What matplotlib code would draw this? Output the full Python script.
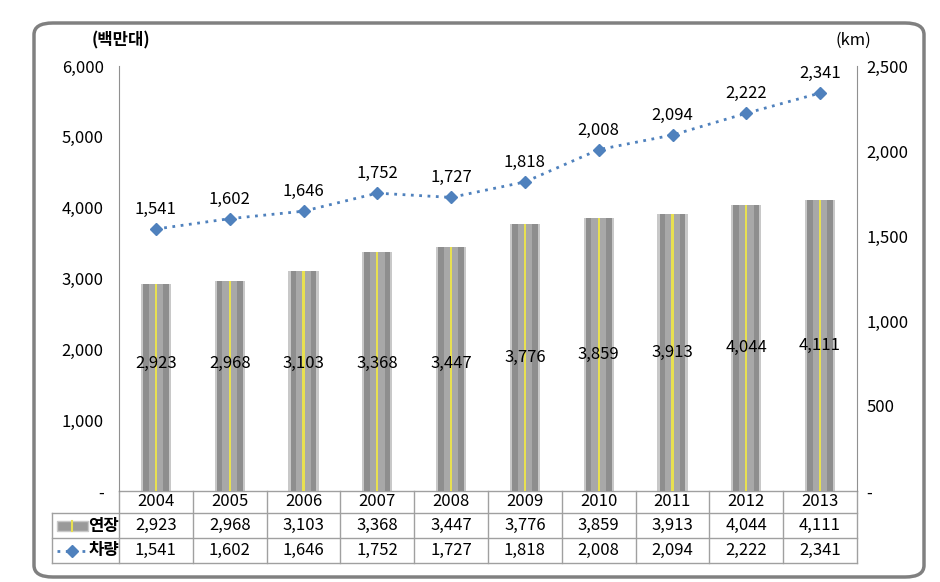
import numpy as np
import matplotlib
matplotlib.use("Agg")
import matplotlib.pyplot as plt
from matplotlib.patches import FancyBboxPatch, Rectangle
from matplotlib.lines import Line2D
from matplotlib.ticker import FuncFormatter
import matplotlib.transforms as mtrans

plt.rcParams['font.family'] = ['Noto Sans CJK KR', 'DejaVu Sans']

years = ['2004', '2005', '2006', '2007', '2008', '2009', '2010', '2011', '2012', '2013']
length = [2923, 2968, 3103, 3368, 3447, 3776, 3859, 3913, 4044, 4111]
cars = [1541, 1602, 1646, 1752, 1727, 1818, 2008, 2094, 2222, 2341]
names = ['연장', '차량']

fs = 12
fig = plt.figure(figsize=(9.4, 5.82), dpi=100)
ax = fig.add_axes([119/940, 1-491/582, 738/940, 425/582])
ax2 = ax.twinx()

# outer rounded frame
frame = FancyBboxPatch((34/940, 5/582), 890/940, 554/582,
                       boxstyle="round,pad=0,rounding_size=0.02",
                       transform=fig.transFigure, fill=False,
                       edgecolor='#808080', linewidth=2.5)
fig.patches.append(frame)

x = np.arange(len(years))
# road-like bars
ax.bar(x, length, width=0.41, color='#c8c8c8', zorder=2)
ax.bar(x, length, width=0.35, color='#8e8e8e', zorder=3)
ax.bar(x, length, width=0.2, color='#a8a8a8', zorder=4)
ax.bar(x, length, width=0.03, color='#e8e050', zorder=5)
for xi, v in zip(x, length):
    ax.text(xi, max(v / 2, 1800), f'{v:,}', ha='center', va='center',
            fontsize=fs, color='black', zorder=6)

ax2.plot(x, cars, linestyle=(0, (1, 2)), color='#4f81bd', linewidth=2,
         marker='D', markersize=6, zorder=5)
for xi, v in zip(x, cars):
    ax2.annotate(f'{v:,}', (xi, v), xytext=(0, 8), textcoords='offset points',
                 ha='center', va='bottom', fontsize=fs)

fmt = FuncFormatter(lambda v, p: '-' if v == 0 else f'{int(v):,}')
ax.set_ylim(0, 6000)
ax.set_yticks(np.arange(0, 6001, 1000))
ax.yaxis.set_major_formatter(fmt)
ax2.set_ylim(0, 2500)
ax2.set_yticks(np.arange(0, 2501, 500))
ax2.yaxis.set_major_formatter(fmt)
ax.set_xlim(-0.5, len(years) - 0.5)
ax.set_xticks([])

for a in (ax, ax2):
    a.spines['top'].set_visible(False)
    a.spines['bottom'].set_visible(False)
ax.tick_params(axis='y', length=0, labelsize=fs, pad=11)
ax2.tick_params(axis='y', length=0, labelsize=fs, pad=7)
ax.spines['right'].set_visible(False)
ax.spines['left'].set_color('#909090')
ax2.spines['left'].set_visible(False)
ax2.spines['right'].set_color('#909090')

fig.text(121/940, 1-40/582, '(백만대)', ha='center', va='center', fontsize=fs, fontweight='bold')
fig.text(853/940, 1-40/582, '(km)', ha='center', va='center', fontsize=fs)

# data table below the plot
tr = mtrans.blended_transform_factory(ax.transData, ax.transAxes)
px = 1 / 425
rows_y = [0, -22*px, -47*px, -72*px]
left = -0.5 - 67/73.8
right = len(years) - 0.5
lc = '#a0a0a0'
ax.add_line(Line2D([-0.5, right], [0, 0], transform=tr, color=lc, lw=1, clip_on=False))
for yy in rows_y[1:]:
    ax.add_line(Line2D([left, right], [yy, yy], transform=tr, color=lc, lw=1, clip_on=False))
ax.add_line(Line2D([left, left], [rows_y[1], rows_y[3]], transform=tr, color=lc, lw=1, clip_on=False))
for k in range(len(years) + 1):
    ax.add_line(Line2D([k - 0.5, k - 0.5], [0, rows_y[3]], transform=tr, color=lc, lw=1, clip_on=False))

for i, yr in enumerate(years):
    ax.text(i, (rows_y[0] + rows_y[1]) / 2, yr, transform=tr, ha='center', va='center', fontsize=fs)
    ax.text(i, (rows_y[1] + rows_y[2]) / 2, f'{length[i]:,}', transform=tr, ha='center', va='center', fontsize=fs)
    ax.text(i, (rows_y[2] + rows_y[3]) / 2, f'{cars[i]:,}', transform=tr, ha='center', va='center', fontsize=fs)

# legend keys in the row-label cells
ym1 = (rows_y[1] + rows_y[2]) / 2
ym2 = (rows_y[2] + rows_y[3]) / 2
x0 = left + 5/73.8
ax.add_patch(Rectangle((x0, ym1 - 5*px), 31/73.8, 10*px, transform=tr,
                       facecolor='#9a9a9a', edgecolor='#c8c8c8', lw=1, clip_on=False))
ax.add_line(Line2D([x0 + 15/73.8] * 2, [ym1 - 5*px, ym1 + 5*px], transform=tr,
                   color='#e8e050', lw=1.5, clip_on=False))
ax.add_line(Line2D([x0, x0 + 31/73.8], [ym2, ym2], transform=tr, color='#4f81bd',
                   lw=2, linestyle=(0, (1, 2)), clip_on=False))
ax.add_line(Line2D([x0 + 15.5/73.8], [ym2], transform=tr, color='#4f81bd',
                   marker='D', markersize=6, clip_on=False))
ax.text(left + 52/73.8, ym1, names[0], transform=tr, ha='center', va='center',
        fontsize=fs, fontweight='bold')
ax.text(left + 52/73.8, ym2, names[1], transform=tr, ha='center', va='center',
        fontsize=fs, fontweight='bold')

fig.savefig('out.png', dpi=100)
